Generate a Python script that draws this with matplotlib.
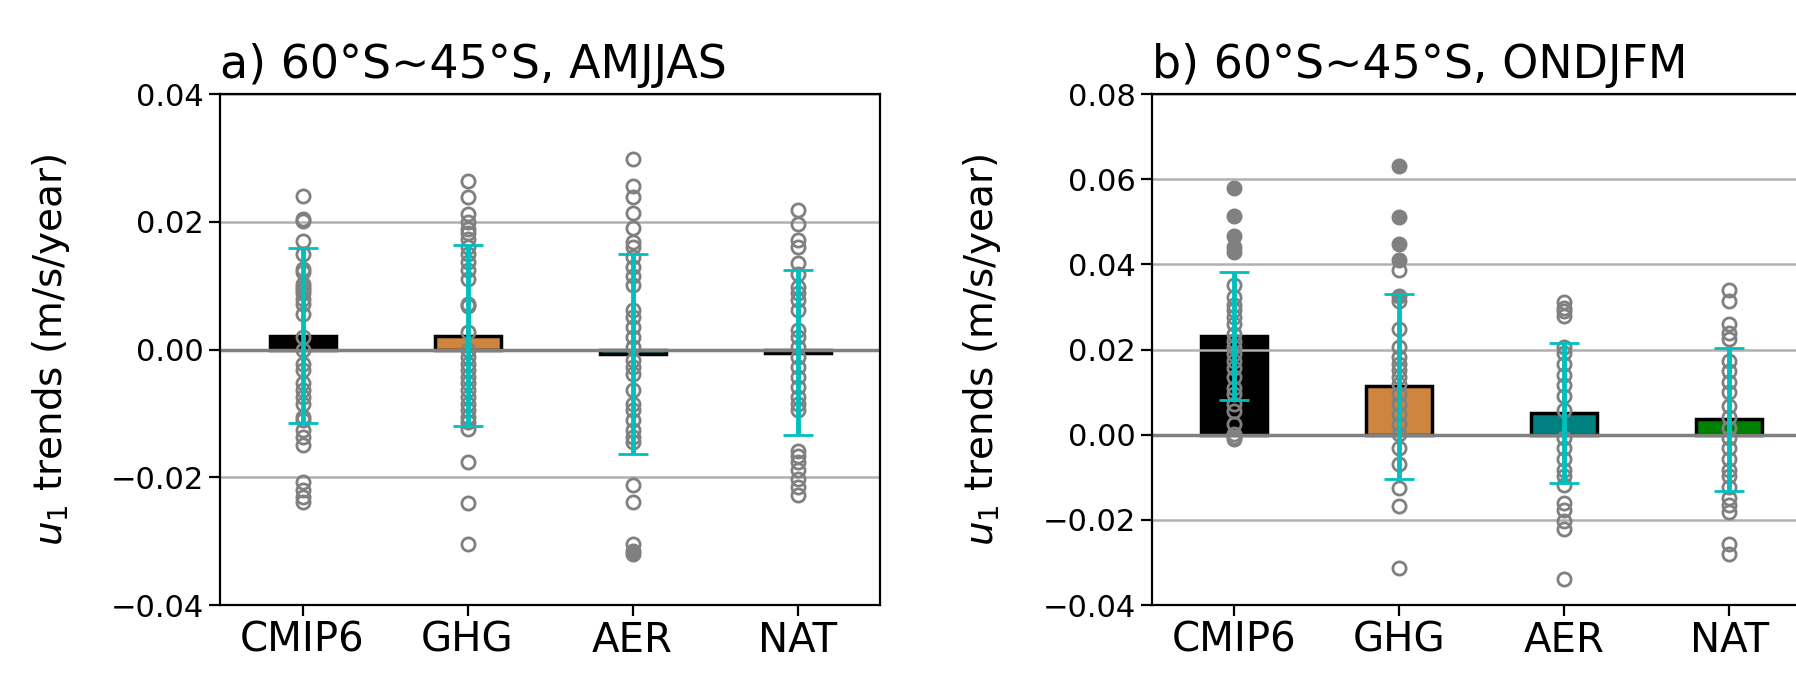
import numpy as np
import matplotlib
matplotlib.use('Agg')
import matplotlib.pyplot as plt

# experimentos e cores das barras
experiments = ['CMIP6', 'GHG', 'AER', 'NAT']
bar_colors = ['black', 'peru', 'teal', 'green']

# painel a) 60S~45S, AMJJAS
mean_a = [0.0022, 0.0022, -0.0007, -0.0005]
std_a = [0.0137, 0.0142, 0.0157, 0.0129]
open_a = [
    [0.0240, 0.0204, 0.0201, 0.0170, 0.0149, 0.0127, 0.0122, 0.0103, 0.0098, 0.0093,
     0.0088, 0.0080, 0.0072, 0.0056, 0.0020, -0.0001, -0.0022, -0.0032, -0.0053, -0.0064,
     -0.0074, -0.0085, -0.0106, -0.0111, -0.0126, -0.0137, -0.0150, -0.0207, -0.0220,
     -0.0231, -0.0239],
    [0.0264, 0.0239, 0.0212, 0.0200, 0.0189, 0.0182, 0.0174, 0.0161, 0.0150, 0.0137,
     0.0124, 0.0111, 0.0072, 0.0069, 0.0028, -0.0001, -0.0012, -0.0022, -0.0032, -0.0043,
     -0.0053, -0.0064, -0.0074, -0.0085, -0.0095, -0.0106, -0.0113, -0.0124, -0.0176,
     -0.0240, -0.0304],
    [0.0298, 0.0257, 0.0239, 0.0214, 0.0191, 0.0169, 0.0161, 0.0145, 0.0129, 0.0116,
     0.0101, 0.0062, 0.0051, 0.0035, 0.0020, 0.0004, -0.0017, -0.0027, -0.0038, -0.0064,
     -0.0085, -0.0095, -0.0111, -0.0126, -0.0137, -0.0145, -0.0212, -0.0239, -0.0305],
    [0.0219, 0.0197, 0.0172, 0.0161, 0.0136, 0.0119, 0.0098, 0.0088, 0.0077, 0.0062,
     0.0030, 0.0020, 0.0004, -0.0012, -0.0027, -0.0043, -0.0059, -0.0074, -0.0085, -0.0095,
     -0.0158, -0.0166, -0.0176, -0.0189, -0.0202, -0.0215, -0.0228],
]
filled_a = [[], [], [-0.0316, -0.0320], []]

# painel b) 60S~45S, ONDJFM
mean_b = [0.0232, 0.0114, 0.0051, 0.0036]
std_b = [0.0151, 0.0217, 0.0165, 0.0168]
open_b = [
    [0.0351, 0.0323, 0.0304, 0.0292, 0.0276, 0.0260, 0.0237, 0.0221, 0.0205, 0.0190,
     0.0174, 0.0158, 0.0135, 0.0111, 0.0096, 0.0072, 0.0056, 0.0025, 0.0002, -0.0006,
     -0.0010],
    [0.0386, 0.0315, 0.0249, 0.0205, 0.0182, 0.0166, 0.0151, 0.0135, 0.0119, 0.0096,
     0.0072, 0.0049, 0.0025, 0.0002, -0.0030, -0.0069, -0.0124, -0.0167, -0.0312],
    [0.0311, 0.0298, 0.0290, 0.0280, 0.0207, 0.0191, 0.0166, 0.0141, 0.0116, 0.0092,
     0.0059, -0.0008, -0.0032, -0.0057, -0.0082, -0.0098, -0.0119, -0.0160, -0.0177,
     -0.0202, -0.0222, -0.0338],
    [0.0340, 0.0315, 0.0261, 0.0240, 0.0224, 0.0174, 0.0149, 0.0125, 0.0100, 0.0067,
     0.0042, 0.0017, -0.0008, -0.0032, -0.0057, -0.0082, -0.0098, -0.0123, -0.0148,
     -0.0164, -0.0181, -0.0256, -0.0280],
]
filled_b = [[0.0580, 0.0513, 0.0468, 0.0441, 0.0429],
            [0.0631, 0.0511, 0.0447, 0.0411, 0.0327], [], []]

titles = ['a) 60°S~45°S, AMJJAS', 'b) 60°S~45°S, ONDJFM']
yticks_a = [-0.04, -0.02, 0.0, 0.02, 0.04]
yticks_b = [-0.04, -0.02, 0.0, 0.02, 0.04, 0.06, 0.08]


def painel(ax, means, stds, pts_open, pts_filled, yticks, title):
    x = np.arange(len(experiments))
    ax.bar(x, means, width=0.4, color=bar_colors, edgecolor='black', linewidth=2.5, zorder=1)
    ax.grid(axis='y', color='#b0b0b0', linewidth=1.8, zorder=2)
    ax.axhline(0, color='grey', linewidth=2.5, zorder=2)
    for i in range(len(experiments)):
        ax.plot([x[i]] * len(pts_open[i]), pts_open[i], 'o', mfc='none', mec='grey',
                ms=9.5, mew=2, zorder=3)
        if pts_filled[i]:
            ax.plot([x[i]] * len(pts_filled[i]), pts_filled[i], 'o', color='grey',
                    ms=10.5, zorder=3)
    ax.errorbar(x, means, yerr=stds, fmt='none', ecolor='c', elinewidth=3.5,
                capsize=11, capthick=2, zorder=4)
    ax.set_xlim(-0.5, 3.5)
    ax.set_ylim(yticks[0], yticks[-1])
    ax.set_yticks(yticks)
    ax.set_yticklabels([('%.2f' % t).replace('-', '\u2212') for t in yticks])
    ax.set_xticks(x)
    ax.set_xticklabels(experiments, fontsize=29)
    ax.tick_params(axis='y', labelsize=22, length=8, width=1.6)
    ax.tick_params(axis='x', length=8, width=1.6)
    for s in ax.spines.values():
        s.set_linewidth(1.6)
    ax.set_ylabel('$u_1$ trends (m/s/year)', fontsize=28)
    ax.yaxis.set_label_coords(-0.225, 0.5)
    ax.set_title(title, fontsize=33, loc='left', pad=12)


fig = plt.figure(figsize=(17.96, 6.73), dpi=100)
ax1 = fig.add_axes([0.1225, 0.101, 0.3675, 0.759])
ax2 = fig.add_axes([0.6414, 0.101, 0.3675, 0.759])

painel(ax1, mean_a, std_a, open_a, filled_a, yticks_a, titles[0])
painel(ax2, mean_b, std_b, open_b, filled_b, yticks_b, titles[1])

plt.savefig('out.png', dpi=100)
